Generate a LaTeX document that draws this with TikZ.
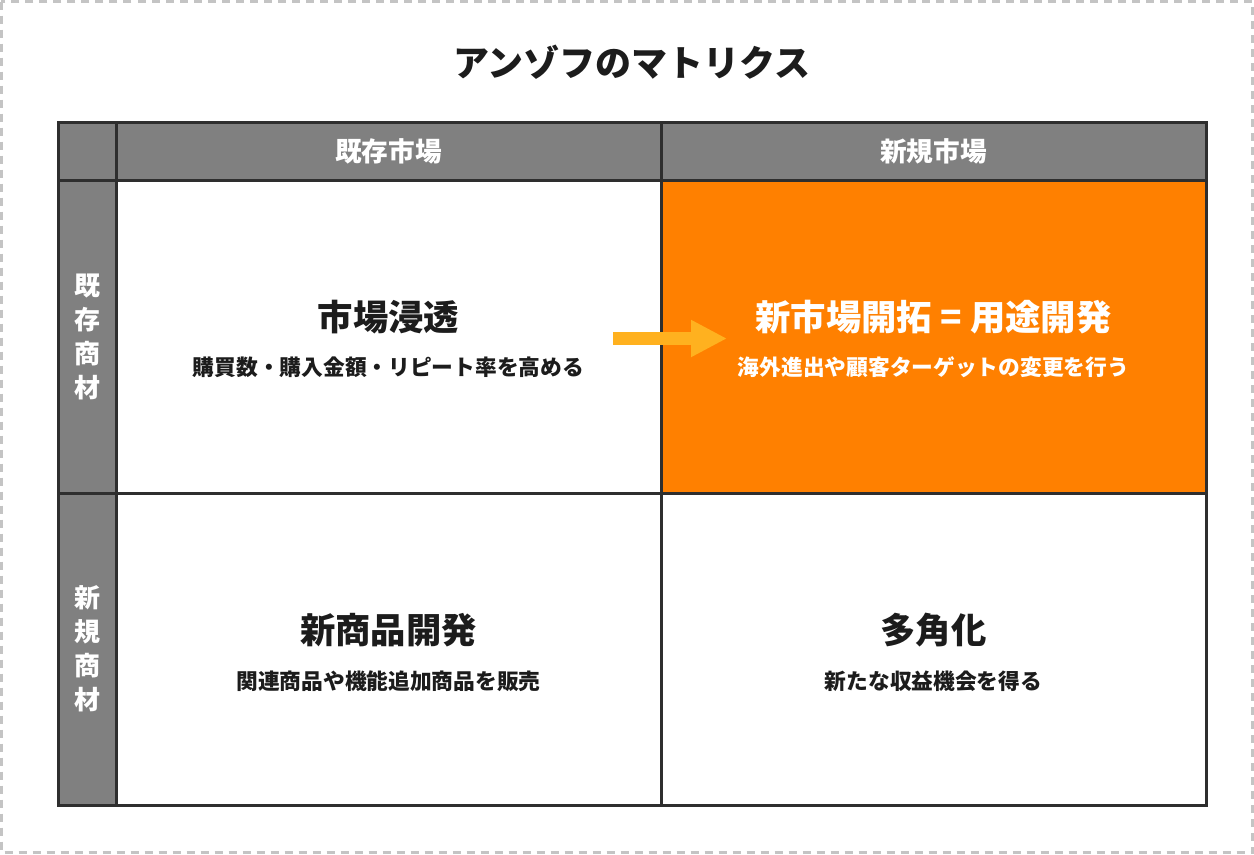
\documentclass[tikz,border=0pt]{standalone}
\usepackage{fontspec}
\setmainfont{Noto Sans CJK JP}
\usetikzlibrary{arrows.meta}
\definecolor{gridline}{HTML}{2E2E2E}
\definecolor{headgray}{HTML}{808080}
\definecolor{focusorange}{HTML}{FF8000}
\definecolor{arrowyellow}{HTML}{FFB11F}
\definecolor{framegray}{HTML}{C4C4C4}
\definecolor{inktext}{HTML}{1C1C1C}
\tikzset{
    cell/.style={draw=gridline, line width=2.25pt, inner sep=0pt, outer sep=0pt},
    headcell/.style={cell, fill=headgray, text=white},
    colhead/.style={font=\fontsize{20}{24}\selectfont\bfseries},
    rowhead/.style={align=center, font=\fontsize{19.5}{25.5}\selectfont\bfseries},
    celltitle/.style={font=\fontsize{26.5}{30}\selectfont\bfseries},
    cellnote/.style={font=\fontsize{16.3}{20}\selectfont\bfseries}
}
\begin{document}
\begin{tikzpicture}[x=0.75pt, y=-0.75pt, text=inktext]
                \useasboundingbox (0,0) rectangle (1254,854);
                \draw [framegray, line width=1.9pt, dash pattern=on 6pt off 4.5pt] (1.5,1.5) rectangle (1252.5,852.5);
                \node [celltitle, font=\fontsize{27}{30}\selectfont\bfseries] (title) at (632,62) {アンゾフのマトリクス};
                \node [headcell, minimum width=43.5pt, minimum height=43.5pt] (corner) at (87,151) {};
                \node [headcell, colhead, minimum width=408.75pt, minimum height=43.5pt] (colA) at (388.5,151) {既存市場};
                \node [headcell, colhead, minimum width=408.75pt, minimum height=43.5pt] (colB) at (933.5,151) {新規市場};
                \node [headcell, minimum width=43.5pt, minimum height=234.75pt] (rowA) at (87,336.5) {};
                \node [headcell, minimum width=43.5pt, minimum height=234pt] (rowB) at (87,649) {};
                \node [rowhead, text=white] (rowAtxt) at (rowA) {既\\存\\商\\材};
                \node [rowhead, text=white] (rowBtxt) at (rowB) {新\\規\\商\\材};
                \node [cell, fill=white, minimum width=408.75pt, minimum height=234.75pt] (penetr) at (388.5,336.5) {};
                \node [cell, fill=focusorange, minimum width=408.75pt, minimum height=234.75pt] (market) at (933.5,336.5) {};
                \node [cell, fill=white, minimum width=408.75pt, minimum height=234pt] (product) at (388.5,649) {};
                \node [cell, fill=white, minimum width=408.75pt, minimum height=234pt] (divers) at (933.5,649) {};
                \node [celltitle] (penetrT) at (388.5,317) {市場浸透};
                \node [cellnote] (penetrN) at (388.5,367.5) {購買数・購入金額・リピート率を高める};
                \node [celltitle, text=white] (marketT) at (933.5,317.5) {新市場開拓 = 用途開発};
                \node [cellnote, text=white] (marketN) at (933.5,367.5) {海外進出や顧客ターゲットの変更を行う};
                \node [celltitle] (productT) at (388.5,630) {新商品開発};
                \node [cellnote] (productN) at (388.5,681) {関連商品や機能追加商品を販売};
                \node [celltitle] (diversT) at (933.5,630) {多角化};
                \node [cellnote] (diversN) at (933.5,681) {新たな収益機会を得る};
                \coordinate (arrS) at (613,338.5);
                \coordinate (arrE) at (727,338.5);
                \draw [arrowyellow, line width=9.75pt, -{Triangle[length=27pt, width=26pt]}] (arrS) -- (arrE);
            \end{tikzpicture}
\end{document}
